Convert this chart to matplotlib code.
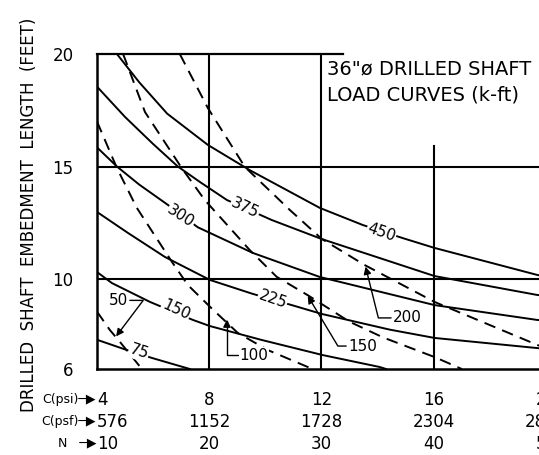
import matplotlib
matplotlib.use("Agg")
import matplotlib.pyplot as plt

# x axis rows: cohesion (psi), cohesion (psf), blow count
c_psi = [4, 8, 12, 16, 20]
c_psf = [576, 1152, 1728, 2304, 2880]
n_blow = [10, 20, 30, 40, 50]
length_ticks = [6, 10, 15, 20]

# solid load curves (k-ft): C (psi) vs embedment length (ft)
s75_c = [4.0, 5.07, 5.96, 7.06, 7.31]
s75_l = [7.30, 6.84, 6.49, 6.09, 6.0]
s150_c = [4.0, 4.53, 5.89, 7.42, 8.02, 9.87, 12.04, 14.07, 14.3]
s150_l = [10.31, 9.82, 8.98, 8.18, 7.91, 7.29, 6.62, 6.09, 6.0]
s225_c = [4.0, 5.1, 6.42, 8.02, 9.52, 11.05, 12.0, 14.43, 16.03, 19.69, 20.0]
s225_l = [12.98, 12.05, 10.98, 9.96, 9.35, 8.80, 8.45, 7.75, 7.38, 6.93, 6.90]
s300_c = [4.0, 4.71, 5.5, 6.53, 7.59, 9.55, 11.94, 16.03, 19.69, 20.0]
s300_l = [15.85, 15.0, 14.2, 13.29, 12.3, 11.16, 10.09, 8.84, 8.18, 8.15]
s375_c = [4.0, 5.0, 6.0, 6.88, 7.67, 8.63, 10.23, 12.0, 16.03, 19.69, 20.0]
s375_l = [18.55, 17.2, 16.0, 15.0, 14.31, 13.51, 12.62, 11.78, 10.13, 9.29, 9.25]
s450_c = [4.71, 5.5, 6.5, 7.95, 9.44, 11.94, 13.47, 14.89, 16.03, 19.69, 20.0]
s450_l = [20.0, 18.75, 17.35, 15.96, 14.84, 13.16, 12.4, 11.82, 11.38, 10.18, 10.1]

# dashed load curves
d50_c = [4.0, 4.46, 4.82, 5.6]
d50_l = [8.55, 7.73, 7.2, 6.0]
d100_c = [4.0, 4.71, 5.42, 6.67, 7.24, 8.08, 9.02, 10.09, 11.51, 11.7]
d100_l = [17.0, 14.93, 13.16, 10.76, 9.73, 8.70, 7.6, 6.84, 6.09, 6.0]
d150_c = [4.93, 5.71, 7.02, 7.84, 9.44, 10.4, 11.55, 13.0, 14.2, 16.03, 17.0]
d150_l = [20.0, 17.42, 14.93, 13.51, 11.29, 10.1, 9.25, 8.1, 7.4, 6.53, 6.0]
d200_c = [6.95, 7.95, 9.27, 10.87, 12.01, 13.54, 16.03, 19.69, 20.0]
d200_l = [20.0, 17.6, 14.98, 13.07, 11.78, 10.62, 8.98, 7.07, 6.92]

W, H = 539, 455
fig = plt.figure(figsize=(W / 100, H / 100), dpi=100)
ax = fig.add_axes([97 / W, (H - 369) / H, (546 - 97) / W, (369 - 54) / H])
ax.set_xlim(4, 20)
ax.set_ylim(6, 20)

lw = 1.4
for c, l in [(s75_c, s75_l), (s150_c, s150_l), (s225_c, s225_l),
             (s300_c, s300_l), (s375_c, s375_l), (s450_c, s450_l)]:
    ax.plot(c, l, color="k", lw=lw)
for c, l in [(d50_c, d50_l), (d100_c, d100_l), (d150_c, d150_l), (d200_c, d200_l)]:
    ax.plot(c, l, color="k", lw=lw, dashes=(6, 3.8))

# grid lines
for x in [8, 12]:
    ax.axvline(x, color="k", lw=1.5)
ax.plot([16, 16], [6, 15.9], color="k", lw=1.5)
for y in [10, 15]:
    ax.axhline(y, color="k", lw=1.5)
ax.plot([4, 12.75], [20, 20], color="k", lw=1.6, clip_on=False)

for side in ["top", "right"]:
    ax.spines[side].set_visible(False)
for side in ["left", "bottom"]:
    ax.spines[side].set_linewidth(1.8)

# inline labels on solid curves
box = dict(boxstyle="square,pad=0.05", fc="white", ec="none")
for txt, x, y, rot in [("75", 5.49, 6.76, -18), ("150", 6.81, 8.62, -25),
                       ("225", 10.26, 9.11, -19), ("300", 6.99, 12.8, -33),
                       ("375", 9.27, 13.16, -25), ("450", 14.14, 12.09, -19)]:
    ax.text(x, y, txt, fontsize=11, rotation=rot, rotation_mode="anchor",
            ha="center", va="center", bbox=box, zorder=5)

# leader labels on dashed curves
def leader(txt, tip, pos, angb):
    ax.annotate(txt, xy=tip, xytext=pos, fontsize=11, ha="center", va="center",
                arrowprops=dict(arrowstyle="-|>", color="k", lw=1.0,
                                mutation_scale=11, shrinkA=1, shrinkB=0,
                                connectionstyle=f"angle,angleA=0,angleB={angb},rad=0"),
                bbox=box, zorder=6)

leader("50", (4.68, 7.45), (4.75, 9.05), 53)
leader("100", (8.63, 8.2), (9.6, 6.62), 90)
leader("150", (11.51, 9.25), (13.47, 7.02), -59)
leader("200", (13.57, 10.55), (15.07, 8.27), 104)

ax.text(12.2, 19.75, '36"ø DRILLED SHAFT\nLOAD CURVES (k-ft)', fontsize=14,
        ha="left", va="top", linespacing=1.45)

# tick labels
ax.set_xticks(c_psi)
ax.set_xticklabels([f"{a}\n{b}\n{n}" for a, b, n in zip(c_psi, c_psf, n_blow)],
                   fontsize=12)
ax.tick_params(axis="x", length=0, pad=16)
for i, t in enumerate(ax.get_xticklabels()):
    t.set_linespacing(1.27)
    if i == 0:
        t.set_ha("left")
ax.set_yticks(length_ticks)
ax.set_yticklabels([str(v) for v in length_ticks], fontsize=12)
ax.tick_params(axis="y", length=0, pad=17)

for txt, py in [("C(psi)─▶", 399), ("C(psf)─▶", 421), ("N   ─▶", 443)]:
    fig.text(96 / W, 1 - py / H, txt, fontsize=9, ha="right", va="center")

fig.text(29 / W, 1 - 215 / H, "DRILLED  SHAFT  EMBEDMENT  LENGTH  (FEET)",
         fontsize=12, rotation=90, ha="center", va="center")

fig.savefig("out.png", dpi=100)
